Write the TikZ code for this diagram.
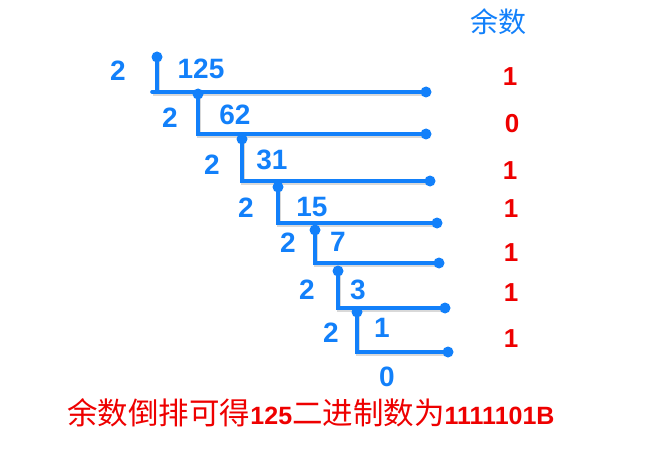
\documentclass[tikz,border=0pt]{standalone}
\usepackage{fontspec}
\setmainfont{Liberation Sans}
\newfontfamily\cjk{Noto Sans CJK SC}
\definecolor{divblue}{RGB}{18,128,250}
\definecolor{remred}{RGB}{238,0,0}

\tikzset{
  divline/.style = {draw=divblue, line width=3.6pt, line cap=round,
                    preaction={draw=black!15, line width=3.6pt,
                               transform canvas={shift={(1pt,-2pt)}}}},
  enddot/.style  = {circle, fill=divblue, inner sep=0pt, minimum size=11pt},
  divisor/.style = {text=divblue, inner sep=0pt,
                    font=\fontsize{28}{28}\selectfont\bfseries},
  quotient/.style = {divisor},
  remainder/.style = {text=remred, inner sep=0pt,
                      font=\fontsize{26}{26}\selectfont\bfseries},
  header/.style  = {text=divblue, inner sep=0pt,
                    font=\fontsize{28}{28}\selectfont\cjk},
  result/.style  = {text=remred, inner sep=0pt}
}

\begin{document}
\begin{tikzpicture}[x=1pt,y=-1pt]
\useasboundingbox (0,0) rectangle (661,476);

% corners of the short division
\coordinate (t0) at (157,57);
\coordinate (c0) at (152,92);
\coordinate (e0) at (426,92);
\coordinate (t1) at (198,94);
\coordinate (e1) at (426,134);
\coordinate (t2) at (242,139);
\coordinate (e2) at (430,181);
\coordinate (t3) at (278,187);
\coordinate (e3) at (437,223);
\coordinate (t4) at (315,230);
\coordinate (e4) at (439,263);
\coordinate (t5) at (338,271);
\coordinate (e5) at (445,308);
\coordinate (t6) at (357,312);
\coordinate (e6) at (448,352);

% division lines
\draw[divline] (t0) -- (t0 |- c0);
\draw[divline] (c0) -- (e0);
\draw[divline] (t1) |- (e1);
\draw[divline] (t2) |- (e2);
\draw[divline] (t3) |- (e3);
\draw[divline] (t4) |- (e4);
\draw[divline] (t5) |- (e5);
\draw[divline] (t6) |- (e6);

% dots
\node[enddot] (dt0) at (t0) {};
\node[enddot] (de0) at (e0) {};
\node[enddot] (dt1) at (t1) {};
\node[enddot] (de1) at (e1) {};
\node[enddot] (dt2) at (t2) {};
\node[enddot] (de2) at (e2) {};
\node[enddot] (dt3) at (t3) {};
\node[enddot] (de3) at (e3) {};
\node[enddot] (dt4) at (t4) {};
\node[enddot] (de4) at (e4) {};
\node[enddot] (dt5) at (t5) {};
\node[enddot] (de5) at (e5) {};
\node[enddot] (dt6) at (t6) {};
\node[enddot] (de6) at (e6) {};

% divisors
\node[divisor] (d0) at (118,71) {2};
\node[divisor] (d1) at (170,118) {2};
\node[divisor] (d2) at (212,165) {2};
\node[divisor] (d3) at (246,208) {2};
\node[divisor] (d4) at (288,243) {2};
\node[divisor] (d5) at (307,290) {2};
\node[divisor] (d6) at (331,333) {2};

% quotients
\node[quotient] (q0) at (201,69) {125};
\node[quotient] (q1) at (235,115) {62};
\node[quotient] (q2) at (272,160) {31};
\node[quotient] (q3) at (312,207) {15};
\node[quotient] (q4) at (338,242) {7};
\node[quotient] (q5) at (358,290) {3};
\node[quotient] (q6) at (382,328) {1};
\node[quotient] (q7) at (387,377) {0};

% remainders
\node[header] (rh) at (498,22) {余数};
\node[remainder] (r0) at (510,77) {1};
\node[remainder] (r1) at (512,124) {0};
\node[remainder] (r2) at (510,171) {1};
\node[remainder] (r3) at (511,209) {1};
\node[remainder] (r4) at (511,253) {1};
\node[remainder] (r5) at (511,293) {1};
\node[remainder] (r6) at (511,339) {1};

\node[result] (res) at (311,413)
  {\fontsize{30.5}{30.5}\selectfont\cjk 余数倒排可得{\fontsize{25}{25}\selectfont\rmfamily\bfseries 125}二进制数为{\fontsize{25}{25}\selectfont\rmfamily\bfseries 1111101B}};
\end{tikzpicture}
\end{document}
